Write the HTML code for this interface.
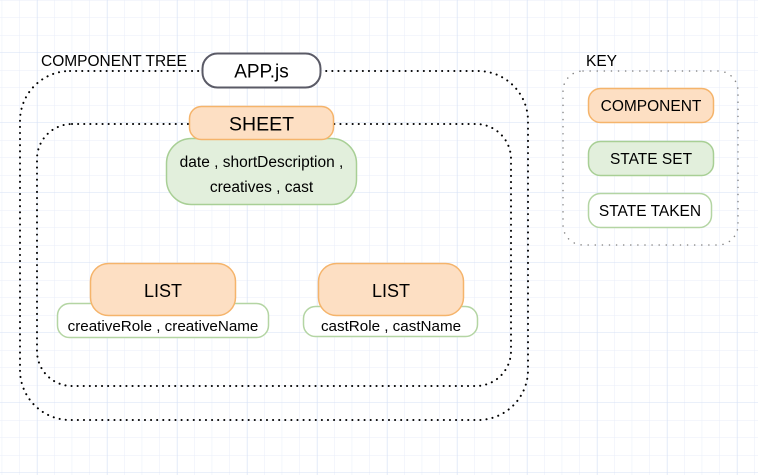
<!DOCTYPE html>
<html><head><meta charset="utf-8"><style>
html,body{margin:0;padding:0;background:#fff}
svg{display:block}
text{font-family:"Liberation Sans",Arial,sans-serif;fill:#000}
</style></head><body>
<svg width="758" height="475" viewBox="0 0 758 475" xmlns="http://www.w3.org/2000/svg">
<defs>
<pattern id="minor" x="1.7" y="0" width="17.5" height="17.5" patternUnits="userSpaceOnUse">
<path d="M0 0V17.5M0 0H17.5" stroke="#e9eef9" stroke-width="1" fill="none"/>
</pattern>
<pattern id="major" x="37" y="52.5" width="70" height="70" patternUnits="userSpaceOnUse">
<path d="M0 0V70M0 0H70" stroke="#d6e0f5" stroke-width="1" fill="none"/>
</pattern>
</defs>
<rect width="758" height="475" fill="#fff"/>
<rect width="758" height="475" fill="url(#minor)"/>
<rect width="758" height="475" fill="url(#major)"/>

<rect x="20" y="71" width="508" height="349" rx="50" fill="none" stroke="#000" stroke-width="2" stroke-dasharray="0.1 6" stroke-linecap="round"/>
<rect x="37" y="124" width="474" height="262" rx="35" fill="none" stroke="#000" stroke-width="2" stroke-dasharray="0.1 6" stroke-linecap="round"/>
<text x="41" y="66" font-size="15.5">COMPONENT TREE</text>

<rect x="202.5" y="53.5" width="118" height="34" rx="15" fill="#fff" stroke="#5a5a66" stroke-width="2"/>
<text x="261.5" y="77.5" font-size="19" text-anchor="middle">APP.js</text>

<rect x="166.5" y="138.5" width="190" height="66" rx="25" fill="#e2efdc" stroke="#a8cf95" stroke-width="1.5"/>
<rect x="189.5" y="106.5" width="144" height="33" rx="12" fill="#fddfc3" stroke="#f5b46b" stroke-width="1.5"/>
<text x="261.5" y="130.5" font-size="19.5" text-anchor="middle">SHEET</text>
<text x="261.5" y="167" font-size="15.5" text-anchor="middle">date , shortDescription ,</text>
<text x="261.5" y="192" font-size="15.5" text-anchor="middle">creatives , cast</text>

<rect x="57.5" y="303.5" width="211" height="34" rx="12" fill="#fff" stroke="#b4d5a3" stroke-width="1.5"/>
<rect x="90.5" y="263.5" width="145" height="52" rx="18" fill="#fddfc3" stroke="#f5b46b" stroke-width="1.5"/>
<text x="163" y="297" font-size="18" text-anchor="middle">LIST</text>
<text x="163" y="331" font-size="15.2" text-anchor="middle">creativeRole , creativeName</text>

<rect x="303.5" y="306.5" width="174" height="30" rx="12" fill="#fff" stroke="#b4d5a3" stroke-width="1.5"/>
<rect x="318.5" y="263.5" width="145" height="52" rx="18" fill="#fddfc3" stroke="#f5b46b" stroke-width="1.5"/>
<text x="391" y="297" font-size="18" text-anchor="middle">LIST</text>
<text x="391" y="331" font-size="15.2" text-anchor="middle">castRole , castName</text>

<text x="586" y="66" font-size="15.5">KEY</text>
<rect x="563" y="71" width="175" height="174" rx="20" fill="none" stroke="#888" stroke-width="1.5" stroke-dasharray="0.1 7" stroke-linecap="round"/>
<rect x="588.5" y="88.5" width="125" height="34" rx="12" fill="#fddfc3" stroke="#f5b46b" stroke-width="1.5"/>
<text x="651" y="111" font-size="15.5" text-anchor="middle">COMPONENT</text>
<rect x="588.5" y="141.5" width="125" height="34" rx="12" fill="#e2efdc" stroke="#a8cf95" stroke-width="1.5"/>
<text x="651" y="164" font-size="15.5" text-anchor="middle">STATE SET</text>
<rect x="588.5" y="193.5" width="123" height="34" rx="12" fill="#fff" stroke="#b4d5a3" stroke-width="1.5"/>
<text x="650" y="216" font-size="15.5" text-anchor="middle">STATE TAKEN</text>
</svg>
</body></html>
